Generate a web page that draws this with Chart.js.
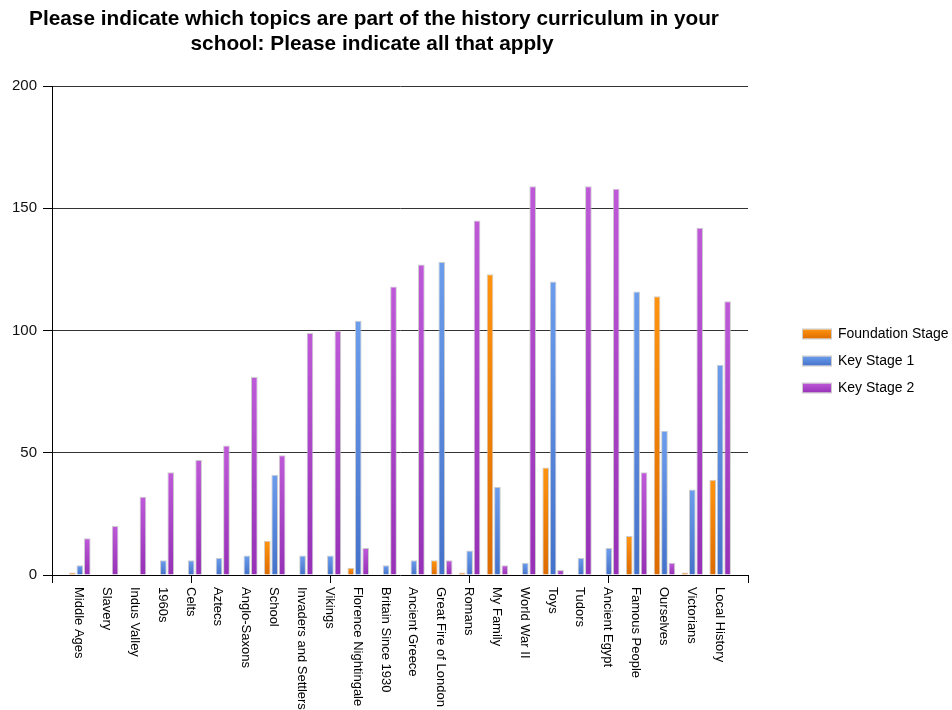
<!DOCTYPE html>
<html>
<head>
<meta charset="utf-8">
<script src="https://cdn.jsdelivr.net/npm/chart.js@4"></script>
<style>
  body { margin: 0; background: #fff; }
  #wrap { width: 952px; height: 710px; }
</style>
</head>
<body>
<div id="wrap"><canvas id="topicsChart" width="952" height="710"></canvas></div>
<script>
const titleLines = ['Please indicate which topics are part of the history curriculum in your',
                    'school: Please indicate all that apply'];

const topics = ['Middle Ages', 'Slavery', 'Indus Valley', '1960s', 'Celts', 'Aztecs', 'Anglo-Saxons',
  'School', 'Invaders and Settlers', 'Vikings', 'Florence Nightingale', 'Britain Since 1930',
  'Ancient Greece', 'Great Fire of London', 'Romans', 'My Family', 'World War II', 'Toys',
  'Tudors', 'Ancient Egypt', 'Famous People', 'Ourselves', 'Victorians', 'Local History'];

const seriesNames = ['Foundation Stage', 'Key Stage 1', 'Key Stage 2'];
const foundation = [1, 0, 0, 0, 0, 0, 0, 14, 0, 0, 3, 0, 0, 6, 1, 123, 0, 44, 0, 0, 16, 114, 1, 39];
const keyStage1  = [4, 0, 0, 6, 6, 7, 8, 41, 8, 8, 104, 4, 6, 128, 10, 36, 5, 120, 7, 11, 116, 59, 35, 86];
const keyStage2  = [15, 20, 32, 42, 47, 53, 81, 49, 99, 100, 11, 118, 127, 6, 145, 4, 159, 2, 159, 158, 42, 5, 142, 112];

const yMax = 200;
const yStep = 50;

// light top / dark bottom for each series
const topColors = ['#FF9410', '#6C9DEC', '#BE5AD8'];
const bottomColors = ['#DD6C00', '#4472CA', '#9630B6'];

const FONT = "'Liberation Sans', Arial, sans-serif";

function barFill(i){
  return function(c){
    let chart = c.chart;
    if(!chart.chartArea || c.type !== 'data' || !c.raw) return topColors[i];
    let y = chart.scales.y;
    let top = y.getPixelForValue(c.raw.y);
    let bottom = y.getPixelForValue(0);
    if(bottom - top < 2) return topColors[i];
    let g = chart.ctx.createLinearGradient(0, top, 0, bottom);
    g.addColorStop(0, topColors[i]);
    g.addColorStop(1, bottomColors[i]);
    return g;
  };
}

function toPoints(values){
  return values.map((v, i) => ({x: i + 1, y: v}));
}

// title, rotated topic names and legend are painted on top of the chart
const decorations = {
  id: 'decorations',
  afterDraw(chart){
    let ctx = chart.ctx;
    let xs = chart.scales.x;
    let area = chart.chartArea;
    ctx.save();

    ctx.fillStyle = '#000';
    ctx.font = 'bold 20.8px ' + FONT;
    ctx.textAlign = 'center';
    ctx.textBaseline = 'middle';
    ctx.fillText(titleLines[0], 374, 19);
    ctx.fillText(titleLines[1], 372, 44);

    ctx.font = '13px ' + FONT;
    ctx.textAlign = 'left';
    for(let i = 0; i < topics.length; i++){
      let px = xs.getPixelForValue(i + 1);
      ctx.save();
      ctx.translate(px - 1, area.bottom + 12);
      ctx.rotate(Math.PI / 2);
      ctx.fillText(topics[i], 0, 0);
      ctx.restore();
    }

    ctx.font = '14px ' + FONT;
    ctx.textBaseline = 'middle';
    for(let i = 0; i < seriesNames.length; i++){
      let cy = 334 + i * 27;
      let g = ctx.createLinearGradient(0, cy - 5, 0, cy + 5);
      g.addColorStop(0, topColors[i]);
      g.addColorStop(1, bottomColors[i]);
      ctx.fillStyle = g;
      ctx.fillRect(803, cy - 4.5, 28, 9);
      ctx.strokeStyle = 'rgba(190,190,190,0.8)';
      ctx.lineWidth = 1;
      ctx.strokeRect(802.5, cy - 5, 29, 10);
      ctx.fillStyle = '#000';
      ctx.fillText(seriesNames[i], 838, cy);
    }
    ctx.restore();
  }
};

const datasets = [foundation, keyStage1, keyStage2].map((vals, i) => ({
  label: seriesNames[i],
  data: toPoints(vals),
  backgroundColor: barFill(i),
  borderColor: 'rgba(195,195,195,0.85)',
  borderWidth: 1,
  categoryPercentage: 0.8,
  barPercentage: 0.9
}));

new Chart(document.getElementById('topicsChart'), {
  type: 'bar',
  data: { datasets: datasets },
  plugins: [decorations],
  options: {
    responsive: false,
    animation: false,
    layout: { padding: { top: 86, right: 204, bottom: 0, left: 0 } },
    plugins: {
      legend: { display: false },
      title: { display: false },
      tooltip: { enabled: false }
    },
    scales: {
      x: {
        type: 'linear',
        min: 0,
        max: topics.length + 1,
        offset: false,
        afterBuildTicks: (scale) => {
          let t = [];
          for(let v = 0; v <= topics.length + 1; v++) t.push({value: v});
          scale.ticks = t;
        },
        afterFit: (scale) => { scale.height = 135; },
        ticks: { display: false },
        grid: {
          offset: false,
          drawOnChartArea: false,
          drawTicks: true,
          tickLength: 8,
          tickColor: (c) => (c.tick && c.tick.value % 5 === 0) ? '#000' : 'rgba(0,0,0,0)'
        },
        border: { display: true, color: '#000', width: 1 }
      },
      y: {
        min: 0,
        max: yMax,
        afterFit: (scale) => { scale.width = 52; },
        ticks: {
          stepSize: yStep,
          padding: 6,
          color: '#111',
          font: { family: FONT, size: 15 }
        },
        grid: {
          color: (c) => (c.tick && c.tick.value === 0) ? 'rgba(0,0,0,0)' : '#333',
          tickColor: '#000',
          tickLength: 9,
          lineWidth: 1
        },
        border: { display: true, color: '#000', width: 1 }
      }
    }
  }
});
</script>
</body>
</html>
